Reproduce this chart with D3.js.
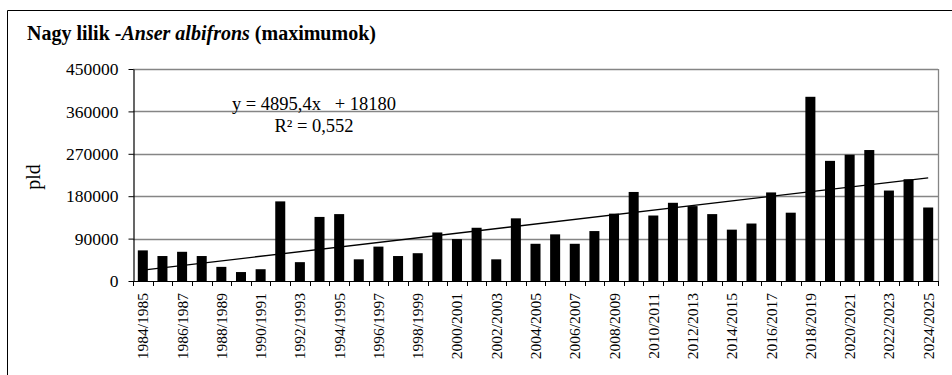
<!DOCTYPE html>
<html>
<head>
<meta charset="utf-8">
<script src="https://cdn.jsdelivr.net/npm/d3@7"></script>
<style>
  html, body { margin: 0; padding: 0; background: #fff; }
  svg { display: block; }
  text { font-family: "Liberation Serif", "Times New Roman", serif; fill: #000; }
</style>
</head>
<body>
<svg id="chart" width="952" height="375"></svg>
<script>
// Winter seasons and the maximum counts of Greater White-fronted Goose (pld = individuals)
const seasons = [
  "1984/1985","1985/1986","1986/1987","1987/1988","1988/1989","1989/1990","1990/1991",
  "1991/1992","1992/1993","1993/1994","1994/1995","1995/1996","1996/1997","1997/1998",
  "1998/1999","1999/2000","2000/2001","2001/2002","2002/2003","2003/2004","2004/2005",
  "2005/2006","2006/2007","2007/2008","2008/2009","2009/2010","2010/2011","2011/2012",
  "2012/2013","2013/2014","2014/2015","2015/2016","2016/2017","2017/2018","2018/2019",
  "2019/2020","2020/2021","2021/2022","2022/2023","2023/2024","2024/2025"
];
const maxima = [
  65000, 53000, 62000, 53000, 30000, 19000, 25000, 169000, 40000, 136000, 142000,
  46000, 73000, 53000, 59000, 103000, 89000, 113000, 46000, 133000, 79000,
  99000, 79000, 106000, 143000, 189000, 139000, 166000, 159000, 142000, 109000,
  122000, 188000, 145000, 391000, 255000, 268000, 278000, 192000, 216000, 156000
];
const yTicks = [0, 90000, 180000, 270000, 360000, 450000];
// Linear trend fitted on the season index (1..n)
const trendSlope = 4895.4;
const trendIntercept = 18180;
const trendLabel = "y = 4895,4x   + 18180";
const r2Label = "R² = 0,552";

const svg = d3.select("#chart");
const plot = { left: 133, right: 938, top: 69, bottom: 281 };

// outer frame (top and left edges)
svg.append("path")
  .attr("d", "M7.5,375 L7.5,10.5 L952,10.5")
  .attr("fill", "none").attr("stroke", "#000").attr("stroke-width", 1);

// title
const title = svg.append("text")
  .attr("x", 27).attr("y", 40)
  .attr("font-size", 20).attr("font-weight", "bold");
title.append("tspan").text("Nagy lilik -");
title.append("tspan").attr("font-style", "italic").text("Anser albifrons");
title.append("tspan").text(" (maximumok)");

const x = d3.scaleBand().domain(seasons).range([plot.left, plot.right]).paddingInner(0.49).paddingOuter(0.245);
const xCenter = d3.scaleBand().domain(seasons).range([plot.left, plot.right]);
const y = d3.scaleLinear().domain([0, 450000]).range([plot.bottom, plot.top]);

// horizontal gridlines
svg.append("g").selectAll("line").data(yTicks.filter(d => d > 0)).join("line")
  .attr("x1", plot.left).attr("x2", plot.right)
  .attr("y1", d => Math.round(y(d)) + 0.5).attr("y2", d => Math.round(y(d)) + 0.5)
  .attr("stroke", "#858585").attr("stroke-width", 1.3);

// right edge of the plot area
svg.append("line")
  .attr("x1", plot.right + 0.5).attr("x2", plot.right + 0.5)
  .attr("y1", plot.top).attr("y2", plot.bottom)
  .attr("stroke", "#858585").attr("stroke-width", 1.3);

// bars
svg.append("g").selectAll("rect").data(seasons).join("rect")
  .attr("x", d => x(d))
  .attr("width", x.bandwidth())
  .attr("y", (d, i) => y(maxima[i]))
  .attr("height", (d, i) => y(0) - y(maxima[i]))
  .attr("fill", "#000");

// trend line
const trendPts = [1, seasons.length].map(k => [
  xCenter(seasons[k - 1]) + xCenter.bandwidth() / 2,
  y(trendSlope * k + trendIntercept)
]);
svg.append("path")
  .attr("d", d3.line()(trendPts))
  .attr("fill", "none").attr("stroke", "#000").attr("stroke-width", 1.4);

// y axis
const yAxis = svg.append("g")
  .attr("transform", `translate(${plot.left + 0.5},0)`)
  .call(d3.axisLeft(y).tickValues(yTicks).tickSize(5).tickSizeOuter(0).tickPadding(10).tickFormat(d3.format("d")));
yAxis.select(".domain").attr("stroke", "#000").attr("stroke-width", 1.2);
yAxis.selectAll(".tick line").attr("stroke", "#000");
yAxis.selectAll("text").attr("font-size", 17.5).attr("font-family", "Liberation Serif, serif").attr("fill", "#000");

// x axis: ticks at every category boundary, labels on every other season
const boundaries = d3.range(seasons.length + 1).map(i => plot.left + i * xCenter.step());
const xAxisG = svg.append("g");
xAxisG.append("line")
  .attr("x1", plot.left).attr("x2", plot.right + 1)
  .attr("y1", plot.bottom + 0.5).attr("y2", plot.bottom + 0.5)
  .attr("stroke", "#000").attr("stroke-width", 1.2);
xAxisG.selectAll("line.tick").data(boundaries).join("line")
  .attr("class", "tick")
  .attr("x1", d => Math.round(d) + 0.5).attr("x2", d => Math.round(d) + 0.5)
  .attr("y1", plot.bottom).attr("y2", plot.bottom + 5)
  .attr("stroke", "#000");
xAxisG.selectAll("text").data(seasons.filter((d, i) => i % 2 === 0)).join("text")
  .attr("transform", d => `translate(${xCenter(d) + xCenter.bandwidth() / 2 + 5.5},${plot.bottom + 12}) rotate(-90)`)
  .attr("text-anchor", "end")
  .attr("font-size", 15.5)
  .text(d => d);

// y axis title
svg.append("text")
  .attr("transform", `translate(40,${(plot.top + plot.bottom) / 2 + 2}) rotate(-90)`)
  .attr("text-anchor", "middle")
  .attr("font-size", 20)
  .text("pld");

// trend equation
svg.append("text")
  .attr("x", 314).attr("y", 110)
  .attr("text-anchor", "middle")
  .attr("font-size", 18.5)
  .style("white-space", "pre")
  .text(trendLabel);
svg.append("text")
  .attr("x", 314).attr("y", 132)
  .attr("text-anchor", "middle")
  .attr("font-size", 18.5)
  .text(r2Label);
</script>
</body>
</html>
